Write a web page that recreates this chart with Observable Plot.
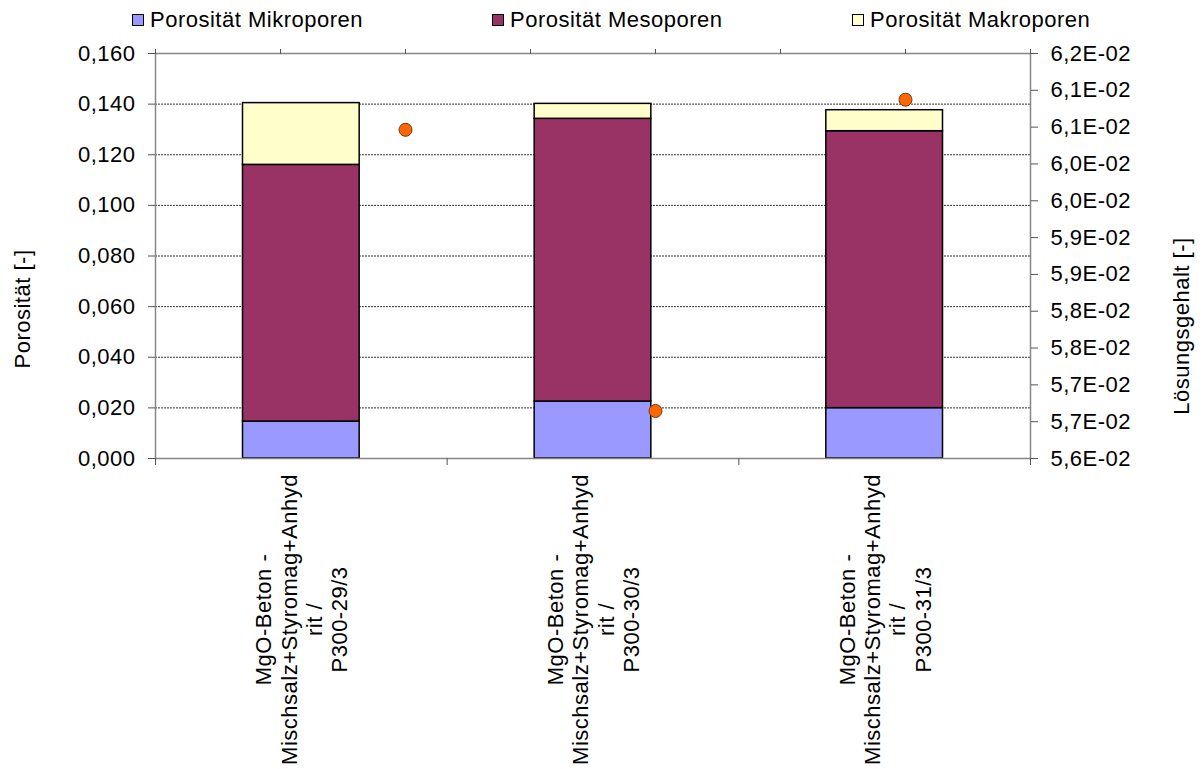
<!DOCTYPE html>
<html><head><meta charset="utf-8">
<script src="https://cdn.jsdelivr.net/npm/d3@7"></script>
<script src="https://cdn.jsdelivr.net/npm/@observablehq/plot@0.6"></script>
<style>
html,body{margin:0;background:#fff;font-family:"Liberation Sans",Arial,sans-serif;overflow:hidden;}
#wrap{position:relative;width:1203px;height:769px;background:#fff;overflow:hidden;}
#legend{position:relative;height:40px;}
#chart svg{display:block;}
.item{position:absolute;top:0;height:40px;display:flex;align-items:center;font-size:22px;letter-spacing:0.5px;color:#000;white-space:nowrap;}
.sw{width:12px;height:12px;border:1px solid #000;margin-right:6px;box-sizing:border-box;}
</style></head><body>
<div id="wrap"><div id="legend"></div><div id="chart"></div></div>
<script>
// ---- data ----
const categories = [
  "MgO-Beton -\nMischsalz+Styromag+Anhyd\nrit /\nP300-29/3",
  "MgO-Beton -\nMischsalz+Styromag+Anhyd\nrit /\nP300-30/3",
  "MgO-Beton -\nMischsalz+Styromag+Anhyd\nrit /\nP300-31/3"
];
const seriesNames = ["Porosität Mikroporen", "Porosität Mesoporen", "Porosität Makroporen"];
const seriesColors = ["#9999FF", "#993366", "#FFFFCC"];
const mikro = [0.0146, 0.0225, 0.0199];
const meso  = [0.1014, 0.1117, 0.1094];
const makro = [0.0244, 0.0059, 0.0083];
const loesung = [0.06091, 0.05671, 0.06136];   // secondary axis values
const loesungX = [1, 2, 3];                     // secondary x positions
const leftTicks = [0, 0.02, 0.04, 0.06, 0.08, 0.10, 0.12, 0.14, 0.16];
const gridTicks = [0.02, 0.04, 0.06, 0.08, 0.10, 0.12, 0.14];
const rightTickValues = [0.056, 0.05655, 0.0571, 0.05765, 0.0582, 0.05875, 0.0593, 0.05985, 0.0604, 0.06095, 0.0615, 0.06205];
const rightTickLabels = ["5,6E-02","5,7E-02","5,7E-02","5,8E-02","5,8E-02","5,9E-02","5,9E-02","6,0E-02","6,0E-02","6,1E-02","6,1E-02","6,2E-02"];
const rightDomain = [0.056, 0.06205];
const topTicks = [0, 0.5, 1, 1.5, 2, 2.5, 3, 3.5];
const secXDomain = [0, 3.5];
const yTitle = "Porosität [-]";
const y2Title = "Lösungsgehalt [-]";

// ---- helpers (secondary axes mapped onto primary scales) ----
const yMax = 0.16;
const toLeft = v => (v - rightDomain[0]) / (rightDomain[1] - rightDomain[0]) * yMax;
const toX = s => 0.5 + (s - secXDomain[0]) / (secXDomain[1] - secXDomain[0]) * categories.length;

const rows = [];
categories.forEach((c, i) => {
  let base = 0;
  [mikro[i], meso[i], makro[i]].forEach((v, k) => {
    rows.push({i: i + 1, s: seriesNames[k], y1: base, y2: base + v});
    base += v;
  });
});
const dots = loesung.map((v, k) => ({x: toX(loesungX[k]), y: toLeft(v)}));
const rightRows = rightTickValues.map((v, k) => ({y: toLeft(v), label: rightTickLabels[k]}));

// ---- legend ----
const legend = document.getElementById("legend");
const legendLeft = [132, 492, 852];
seriesNames.forEach((n, k) => {
  const it = document.createElement("div");
  it.className = "item";
  it.style.left = legendLeft[k] + "px";
  it.innerHTML = `<span class="sw" style="background:${seriesColors[k]}"></span><span>${n}</span>`;
  legend.appendChild(it);
});

const axisStroke = "#868686";
const FS = 22;
const chart = Plot.plot({
  width: 1203,
  height: 729,
  marginLeft: 155,
  marginRight: 173,
  marginTop: 13,
  marginBottom: 311,
  style: {fontFamily: "'Liberation Sans', Arial, sans-serif", fontSize: FS + "px", letterSpacing: "0.5px", color: "#000", background: "#fff", maxWidth: "none"},
  x: {type: "linear", domain: [0.5, categories.length + 0.5], axis: null},
  y: {domain: [0, yMax], axis: null},
  color: {domain: seriesNames, range: seriesColors},
  marks: [
    Plot.gridY(gridTicks, {stroke: "#333", strokeOpacity: 1, strokeDasharray: "2,1", strokeWidth: 1}),
    Plot.rect(rows, {x1: d => d.i - 0.2, x2: d => d.i + 0.2, y1: "y1", y2: "y2", fill: "s", stroke: "#000", strokeWidth: 1.5}),
    Plot.frame({stroke: axisStroke, strokeWidth: 1.5}),
    Plot.axisY(leftTicks, {anchor: "left", tickSize: 7, tickPadding: 13, stroke: "#555", label: null,
      tickFormat: d => d.toFixed(3).replace(".", ","), fontSize: FS}),
    Plot.axisY(rightRows.map(d => d.y), {anchor: "right", tickSize: 7, stroke: "#555", label: null, tickFormat: () => ""}),
    Plot.text(rightRows, {y: "y", text: "label", frameAnchor: "right", textAnchor: "start", dx: 20, fontSize: FS, fill: "#000"}),
    Plot.axisX([0.5, 1.5, 2.5, 3.5], {anchor: "bottom", tickSize: 7, stroke: "#555", label: null, tickFormat: () => ""}),
    Plot.axisX(topTicks.map(toX), {anchor: "top", tickSize: 5, stroke: "#555", label: null, tickFormat: () => ""}),
    Plot.text(categories, {x: (d, i) => i + 1, frameAnchor: "bottom", text: d => d, rotate: -90,
      textAnchor: "middle", lineAnchor: "middle", lineHeight: 1.15, dy: 161, fontSize: FS, fill: "#000"}),
    Plot.dot(dots, {x: "x", y: "y", r: 6.5, fill: "#FF6600", stroke: "#6b3a1a", strokeWidth: 1}),
    Plot.text([yTitle], {frameAnchor: "left", textAnchor: "middle", rotate: -90, dx: -133, dy: 53, fontSize: FS, fill: "#000"}),
    Plot.text([y2Title], {frameAnchor: "right", textAnchor: "middle", rotate: -90, dx: 151, dy: 70, fontSize: FS, fill: "#000"})
  ]
});
document.getElementById("chart").appendChild(chart);
</script>
</body></html>
